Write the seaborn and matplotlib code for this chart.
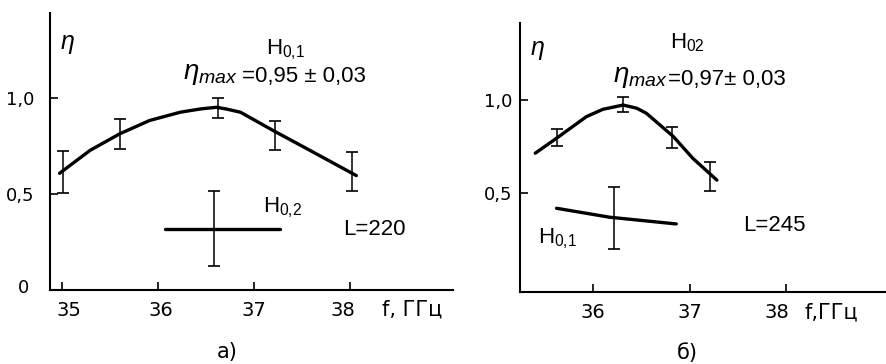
import matplotlib
matplotlib.use("Agg")
import matplotlib.pyplot as plt
import matplotlib.transforms as mtransforms
import numpy as np
import pandas as pd
import seaborn as sns

sns.set_style("ticks")
plt.rcParams["font.family"] = ["DejaVu Sans"]
plt.rcParams["text.color"] = "black"
plt.rcParams["axes.edgecolor"] = "black"
plt.rcParams["xtick.color"] = "black"
plt.rcParams["ytick.color"] = "black"
plt.rcParams["mathtext.fontset"] = "custom"
plt.rcParams["mathtext.rm"] = "Liberation Sans"
plt.rcParams["mathtext.it"] = "Liberation Sans:italic"

# panel a) L=220, mode H01 (curve + measured points), H02 single point
a_curve_f = [34.97, 35.29, 35.60, 35.91, 36.23, 36.44, 36.61, 36.71, 36.86, 37.20, 37.55, 38.07]
a_curve_eta = [0.608, 0.728, 0.814, 0.883, 0.926, 0.943, 0.952, 0.943, 0.926, 0.831, 0.737, 0.596]
a_pts_f = [35.01, 35.60, 36.62, 37.22, 38.02]
a_pts_eta = [0.614, 0.815, 0.948, 0.803, 0.617]
a_pts_err = [0.109, 0.078, 0.05, 0.075, 0.103]
a_h02_f = [36.07, 37.27]
a_h02_eta = [0.316, 0.316]
a_h02_pt = (36.58, 0.32, 0.194)

# panel б) L=245, mode H02 (curve + points), H01 line + single point
b_curve_f = [35.40, 35.62, 35.93, 36.10, 36.31, 36.45, 36.55, 36.83, 37.03, 37.28]
b_curve_eta = [0.715, 0.795, 0.911, 0.950, 0.973, 0.956, 0.929, 0.804, 0.688, 0.571]
b_pts_f = [35.63, 36.31, 36.82, 37.21]
b_pts_eta = [0.80, 0.977, 0.80, 0.59]
b_pts_err = [0.045, 0.04, 0.057, 0.08]
b_h01_f = [35.62, 36.17, 36.86]
b_h01_eta = [0.42, 0.372, 0.336]
b_h01_pt = (36.22, 0.368, 0.168)

ann_font = ["Liberation Sans", "DejaVu Sans"]

fig = plt.figure(figsize=(8.87, 3.64), dpi=100)
ax1 = fig.add_axes([0.0564, 0.2033, 0.4543, 0.761])
ax2 = fig.add_axes([0.5857, 0.1986, 0.412, 0.738])


def draw_panel(ax, cf, ce, pf, pe, perr, lf, le, pt):
    sns.lineplot(x=cf, y=ce, ax=ax, color="black", lw=2.4, sort=False, estimator=None)
    sns.lineplot(x=lf, y=le, ax=ax, color="black", lw=2.4, sort=False, estimator=None)
    ax.errorbar(pf, pe, yerr=perr, fmt="none", ecolor="black", elinewidth=1.1,
                capsize=4.5, capthick=1.2)
    ax.errorbar([pt[0]], [pt[1]], yerr=[pt[2]], fmt="none", ecolor="black",
                elinewidth=1.1, capsize=4.5, capthick=1.2)
    for s in ["top", "right"]:
        ax.spines[s].set_visible(False)
    for s in ["left", "bottom"]:
        ax.spines[s].set_linewidth(1.5)
    ax.tick_params(direction="in", length=6, width=1.2, labelsize=13, colors="black")
    ax.set_xlabel("")
    ax.set_ylabel("")


def nudge(label, dx, dy):
    # hand lettered labels in the scan sit a little off their ticks
    label.set_transform(label.get_transform()
                        + mtransforms.ScaledTranslation(dx / 100, -dy / 100, fig.dpi_scale_trans))


draw_panel(ax1, a_curve_f, a_curve_eta, a_pts_f, a_pts_eta, a_pts_err,
           a_h02_f, a_h02_eta, a_h02_pt)
ax1.set_xlim(34.87, 39.08)
ax1.set_ylim(0.015, 1.443)
ax1.set_xticks([35, 36, 37, 38])
ax1.set_xticklabels(["35", "36", "37", "38"], fontsize=14)
ax1.set_yticks([0, 0.5, 1.0])
ax1.set_yticklabels(["0", "0,5", "1,0"])
ax1.tick_params(axis="x", pad=8)
ax1.tick_params(axis="y", pad=11)
xl = ax1.get_xticklabels()
nudge(xl[0], 6, 0)
nudge(xl[1], 3, 0)
nudge(xl[3], -7, 0)
nudge(ax1.get_yticklabels()[0], -6, -4)

ax1.text(35.05, 1.28, r"$\eta$", fontsize=18, ha="center", va="center")
ax1.text(37.13, 1.227, r"H$_{\mathrm{0{,}1}}$", fontsize=16, family=ann_font)
ax1.text(36.258, 1.098, r"$\eta_{max}$", fontsize=20)
ax1.text(36.874, 1.082, "=0,95 ± 0,03", fontsize=16, family=ann_font)
ax1.text(37.09, 0.402, r"H$_{\mathrm{0{,}2}}$", fontsize=16, family=ann_font)
ax1.text(37.93, 0.284, "L=220", fontsize=16, family=ann_font)
ax1.text(38.34, -0.103, "f, ГГц", fontsize=15, va="center", clip_on=False)

draw_panel(ax2, b_curve_f, b_curve_eta, b_pts_f, b_pts_eta, b_pts_err,
           b_h01_f, b_h01_eta, b_h01_pt)
ax2.set_xlim(35.237, 39.02)
ax2.set_ylim(-0.027, 1.412)
ax2.set_xticks([36, 37, 38])
ax2.set_xticklabels(["36", "37", "38"], fontsize=14)
ax2.set_yticks([0.5, 1.0])
ax2.set_yticklabels(["0,5", "1,0"])
ax2.tick_params(axis="x", pad=8)
ax2.tick_params(axis="y", pad=5)
nudge(ax2.get_xticklabels()[2], -10, 0)

ax2.text(35.42, 1.268, r"$\eta$", fontsize=18, ha="center", va="center")
ax2.text(36.79, 1.278, r"H$_{\mathrm{02}}$", fontsize=16, family=ann_font)
ax2.text(36.20, 1.096, r"$\eta_{max}$", fontsize=20)
ax2.text(36.77, 1.080, "=0,97± 0,03", fontsize=16, family=ann_font)
ax2.text(37.55, 0.298, "L=245", fontsize=16, family=ann_font)
ax2.text(35.43, 0.234, r"H$_{\mathrm{0{,}1}}$", fontsize=16, family=ann_font)
ax2.text(38.19, -0.141, "f,ГГц", fontsize=15, va="center", clip_on=False)

fig.text(227 / 887, 1 - 352 / 364, "а)", fontsize=15, ha="center", va="center")
fig.text(687 / 887, 1 - 353 / 364, "б)", fontsize=15, ha="center", va="center")

fig.savefig("out.png", dpi=100)
